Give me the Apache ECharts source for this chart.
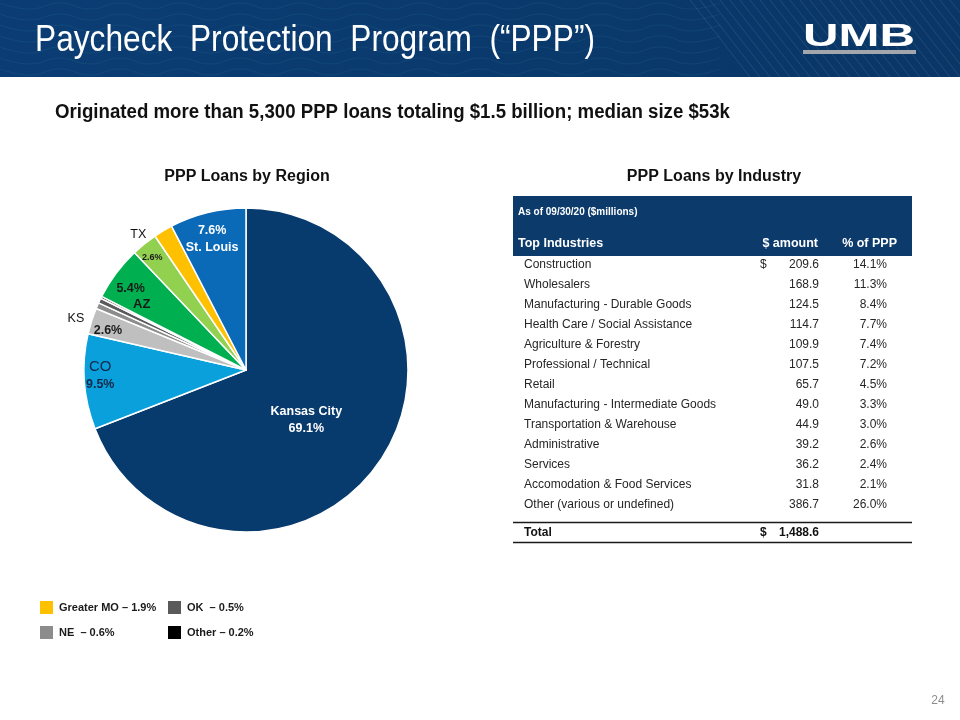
<!DOCTYPE html>
<html><head><meta charset="utf-8">
<script src="https://cdn.jsdelivr.net/npm/echarts@6/dist/echarts.min.js"></script>
<style>html,body{margin:0;padding:0;background:#fff}#c{width:960px;height:720px}</style>
</head><body><div id="c"></div>
<script>
// ---------- data ----------
const regions = ['Kansas City', 'CO', 'KS', 'NE', 'OK', 'Other', 'AZ', 'TX', 'Greater MO', 'St. Louis'];
const regionPct = [69.1, 9.5, 2.6, 0.6, 0.5, 0.2, 5.4, 2.6, 1.9, 7.6];
const regionColors = ['#073a6d', '#0aa0dc', '#bfbfbf', '#8c8c8c', '#5a5a5a', '#000000', '#00b050', '#92d050', '#ffc000', '#0b6ab8'];
const legendCol1 = ['Greater MO', 'NE'];
const legendCol2 = ['OK', 'Other'];
const industries = ['Construction', 'Wholesalers', 'Manufacturing - Durable Goods', 'Health Care / Social Assistance',
  'Agriculture & Forestry', 'Professional / Technical', 'Retail', 'Manufacturing - Intermediate Goods',
  'Transportation & Warehouse', 'Administrative', 'Services', 'Accomodation & Food Services', 'Other (various or undefined)'];
const amounts = [209.6, 168.9, 124.5, 114.7, 109.9, 107.5, 65.7, 49.0, 44.9, 39.2, 36.2, 31.8, 386.7];
const pctOfPPP = [14.1, 11.3, 8.4, 7.7, 7.4, 7.2, 4.5, 3.3, 3.0, 2.6, 2.4, 2.1, 26.0];
const totalAmount = 1488.6;

// ---------- helpers ----------
const FF = '"Liberation Sans", Arial, sans-serif';
const ctx2d = document.createElement('canvas').getContext('2d');
function measure(txt, font) { ctx2d.font = font; return ctx2d.measureText(txt).width; }
function fitText(txt, x, y, size, weight, target, fill) {
  const font = weight + ' ' + size + 'px ' + FF;
  const s = target / measure(txt, font);
  return { type: 'text', x: x, y: y, scaleX: s, originX: 0, originY: 0,
    style: { text: txt, x: 0, y: 0, font: font, fill: fill, textAlign: 'left', textVerticalAlign: 'middle' } };
}
function fmt1(v) { return v.toFixed(1); }
function fmtComma(v) { const p = v.toFixed(1).split('.'); return p[0].replace(/\B(?=(\d{3})+(?!\d))/g, ',') + '.' + p[1]; }

// ---------- graphics (header, titles, table) ----------
const g = [];
g.push({ type: 'rect', shape: { x: 0, y: 0, width: 960, height: 77 }, silent: true,
  style: { fill: new echarts.graphic.LinearGradient(0, 0, 1, 0, [{ offset: 0, color: '#0b3d74' }, { offset: 1, color: '#093666' }]) } });
// decorative waves
for (let w = 0; w < 7; w++) {
  const pts = [];
  for (let x = 0; x <= 720; x += 30) pts.push([x, 6 + w * 11 + ((x / 30) % 2 === 0 ? -3 : 3)]);
  g.push({ type: 'polyline', silent: true, shape: { points: pts, smooth: 0.5 }, style: { stroke: 'rgba(70,170,175,0.11)', lineWidth: 1, fill: null } });
}
for (let k = 0; k < 28; k++) {
  const x0 = 690 + k * 10;
  g.push({ type: 'line', silent: true, shape: { x1: x0, y1: 0, x2: x0 + 60, y2: 77 }, style: { stroke: 'rgba(255,255,255,0.10)', lineWidth: 1 } });
}
g.push(fitText('Paycheck  Protection  Program  (\u201CPPP\u201D)', 35, 41, 36, 'normal', 560, '#ffffff'));
g.push(fitText('UMB', 803, 37, 32, 'bold', 112, '#ffffff'));
g.push({ type: 'rect', shape: { x: 803, y: 50, width: 113, height: 4 }, style: { fill: '#a3a6aa' }, silent: true });
g.push(fitText('Originated more than 5,300 PPP loans totaling $1.5 billion; median size $53k', 55, 112, 20, 'bold', 675, '#111111'));
g.push({ type: 'text', x: 247, y: 177, style: { text: 'PPP Loans by Region', font: 'bold 16px ' + FF, fill: '#111', textAlign: 'center', textVerticalAlign: 'middle' } });
g.push({ type: 'text', x: 714, y: 177, style: { text: 'PPP Loans by Industry', font: 'bold 16px ' + FF, fill: '#111', textAlign: 'center', textVerticalAlign: 'middle' } });

// table
const TX0 = 513, TX1 = 912, colAmt = 819, colPct = 887, colDollar = 760;
g.push({ type: 'rect', shape: { x: TX0, y: 196, width: TX1 - TX0, height: 60 }, style: { fill: '#0b3a6b' }, silent: true });
g.push({ type: 'text', x: 518, y: 212, style: { text: 'As of 09/30/20 ($millions)', font: 'bold 10px ' + FF, fill: '#fff', textVerticalAlign: 'middle' } });
g.push({ type: 'text', x: 518, y: 244, style: { text: 'Top Industries', font: 'bold 12.5px ' + FF, fill: '#fff', textVerticalAlign: 'middle' } });
g.push({ type: 'text', x: 818, y: 244, style: { text: '$ amount', font: 'bold 12.5px ' + FF, fill: '#fff', textAlign: 'right', textVerticalAlign: 'middle' } });
g.push({ type: 'text', x: 897, y: 244, style: { text: '% of PPP', font: 'bold 12.5px ' + FF, fill: '#fff', textAlign: 'right', textVerticalAlign: 'middle' } });
industries.forEach(function (name, i) {
  const y = 265 + i * 20;
  g.push({ type: 'text', x: 524, y: y, style: { text: name, font: '12px ' + FF, fill: '#262626', textVerticalAlign: 'middle' } });
  g.push({ type: 'text', x: colAmt, y: y, style: { text: fmt1(amounts[i]), font: '12px ' + FF, fill: '#262626', textAlign: 'right', textVerticalAlign: 'middle' } });
  g.push({ type: 'text', x: colPct, y: y, style: { text: fmt1(pctOfPPP[i]) + '%', font: '12px ' + FF, fill: '#262626', textAlign: 'right', textVerticalAlign: 'middle' } });
  if (i === 0) g.push({ type: 'text', x: colDollar, y: y, style: { text: '$', font: '12px ' + FF, fill: '#262626', textVerticalAlign: 'middle' } });
});
g.push({ type: 'line', shape: { x1: TX0, y1: 522.5, x2: TX1, y2: 522.5 }, style: { stroke: '#1a1a1a', lineWidth: 1.5 } });
g.push({ type: 'line', shape: { x1: TX0, y1: 542.5, x2: TX1, y2: 542.5 }, style: { stroke: '#1a1a1a', lineWidth: 1.5 } });
g.push({ type: 'text', x: 524, y: 533, style: { text: 'Total', font: 'bold 12px ' + FF, fill: '#111', textVerticalAlign: 'middle' } });
g.push({ type: 'text', x: colDollar, y: 533, style: { text: '$', font: 'bold 12px ' + FF, fill: '#111', textVerticalAlign: 'middle' } });
g.push({ type: 'text', x: colAmt, y: 533, style: { text: fmtComma(totalAmount), font: 'bold 12px ' + FF, fill: '#111', textAlign: 'right', textVerticalAlign: 'middle' } });
g.push({ type: 'text', x: 938, y: 701, style: { text: '24', font: '12px ' + FF, fill: '#8c8c8c', textAlign: 'center', textVerticalAlign: 'middle' } });

// ---------- pie label styling (by slice index) ----------
const labelSpec = {
  0: { f: (n, v) => '{w|' + n + '}\n{w|' + v + '%}', dx: -9, dy: 3 },
  1: { f: (n, v) => '{co|' + n + '}\n{cb|' + v + '%}', dx: -62, dy: 0 },
  2: { f: (n, v) => '{d|' + v + '%}', dx: -58, dy: -14 },
  6: { f: (n, v) => '{d|' + v + '%}\n{az|' + n + '}', dx: -48, dy: -23 },
  7: { f: (n, v) => '{s|' + v + '%}', dx: -41, dy: -47 },
  9: { f: (n, v) => '{w|' + v + '%}\n{w|' + n + '}', dx: -14, dy: -49 }
};
const nameSpec = { 2: { dx: -90, dy: -26 }, 7: { dx: -55, dy: -70 } };
const rich = {
  w: { color: '#fff', fontWeight: 'bold', fontSize: 12.5, fontFamily: FF, lineHeight: 17 },
  co: { color: '#13294b', fontSize: 15, fontFamily: FF, lineHeight: 17 },
  cb: { color: '#13294b', fontWeight: 'bold', fontSize: 12.5, fontFamily: FF, lineHeight: 17 },
  d: { color: '#1a1a1a', fontWeight: 'bold', fontSize: 12.5, fontFamily: FF, lineHeight: 16 },
  az: { color: '#1a1a1a', fontWeight: 'bold', fontSize: 13, fontFamily: FF, lineHeight: 16, padding: [0, 0, 0, 22] },
  s: { color: '#1a1a1a', fontWeight: 'bold', fontSize: 9, fontFamily: FF },
  n: { color: '#111', fontSize: 12.5, fontFamily: FF }
};
function layoutBy(spec) {
  return function (p) {
    const s = spec[p.dataIndex];
    if (!s || !p.labelRect) return {};
    return { x: p.labelRect.x + p.labelRect.width / 2 + s.dx, y: p.labelRect.y + p.labelRect.height / 2 + s.dy, align: 'center', verticalAlign: 'middle' };
  };
}
const pieData = regions.map((n, i) => ({ name: n, value: regionPct[i], itemStyle: { color: regionColors[i] } }));
const legendBase = { orient: 'vertical', top: 599, padding: 0, itemWidth: 15, itemHeight: 15, itemGap: 8, icon: 'rect', selectedMode: false,
  textStyle: { fontFamily: FF, fontWeight: 'bold', fontSize: 11, color: '#1a1a1a' } };

const chart = echarts.init(document.getElementById('c'), null, { renderer: 'canvas' });
chart.setOption({
  animation: false,
  backgroundColor: '#ffffff',
  graphic: { elements: g },
  legend: [
    Object.assign({}, legendBase, { data: legendCol1, left: 38,
      formatter: n => n + (n === 'NE' ? '  ' : ' ') + '\u2013 ' + fmt1(regionPct[regions.indexOf(n)]) + '%' }),
    Object.assign({}, legendBase, { data: legendCol2, left: 166,
      formatter: n => n + (n === 'OK' ? '  ' : ' ') + '\u2013 ' + fmt1(regionPct[regions.indexOf(n)]) + '%' })
  ],
  series: [
    {
      type: 'pie', center: [246, 370], radius: 162, startAngle: 90, clockwise: true,
      data: pieData, emphasis: { disabled: true }, silent: true,
      itemStyle: { borderColor: '#ffffff', borderWidth: 1.5 },
      label: { show: true, position: 'inside', rich: rich,
        formatter: p => labelSpec[p.dataIndex] ? labelSpec[p.dataIndex].f(p.name, fmt1(p.value)) : '' },
      labelLine: { show: false },
      labelLayout: layoutBy(labelSpec)
    },
    {
      type: 'pie', center: [246, 370], radius: 162, startAngle: 90, clockwise: true,
      data: regions.map((n, i) => ({ name: n, value: regionPct[i] })),
      emphasis: { disabled: true }, silent: true, legendHoverLink: false,
      itemStyle: { color: 'rgba(0,0,0,0)', borderWidth: 0 },
      label: { show: true, position: 'inside', rich: rich,
        formatter: p => nameSpec[p.dataIndex] ? '{n|' + p.name + '}' : '' },
      labelLine: { show: false },
      labelLayout: layoutBy(nameSpec)
    }
  ]
});
</script>
</body></html>
